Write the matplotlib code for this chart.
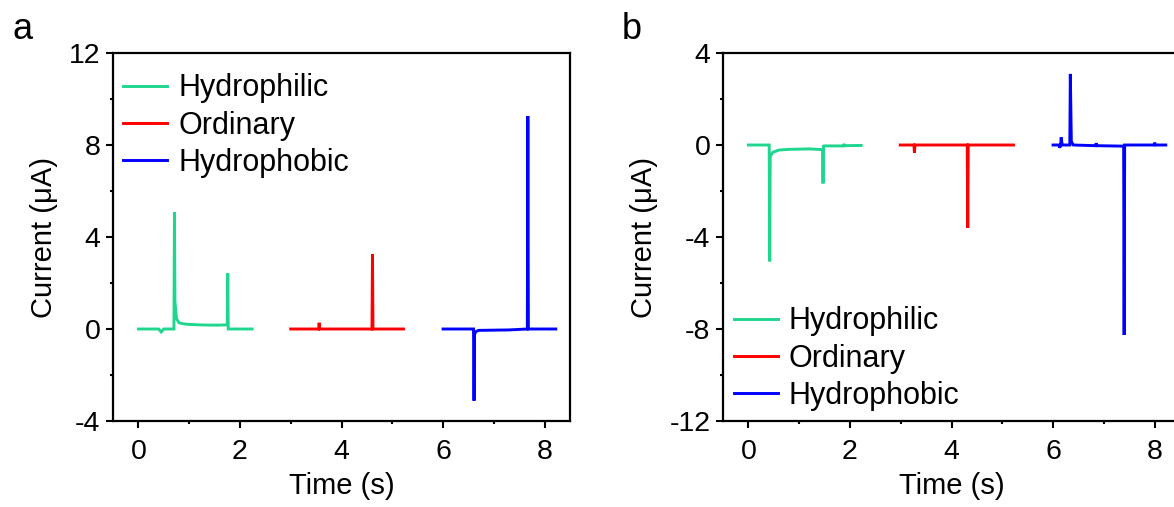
import matplotlib.pyplot as plt
from matplotlib.ticker import MultipleLocator

plt.rcParams['font.family'] = ['Liberation Sans', 'DejaVu Sans']
plt.rcParams['axes.unicode_minus'] = False

# ---------------------------------------------------------------------------- #
#                                     Data                                     #
# ---------------------------------------------------------------------------- #
# panel a (time in s, current in uA)
a_hydrophilic_t = [0.0, 0.40, 0.45, 0.50, 0.70, 0.71, 0.72, 0.75, 0.80, 0.90, 1.0, 1.2,
                   1.4, 1.6, 1.75, 1.76, 1.77, 2.0, 2.24]
a_hydrophilic_i = [0.0, 0.0, -0.13, 0.0, 0.0, 5.07, 1.2, 0.45, 0.27, 0.22, 0.20, 0.18,
                   0.17, 0.17, 0.18, 2.42, 0.0, 0.0, 0.0]

a_ordinary_t = [3.0, 3.55, 3.56, 3.57, 4.60, 4.61, 4.62, 5.22]
a_ordinary_i = [0.0, 0.0, 0.27, 0.0, 0.0, 3.26, 0.0, 0.0]

a_hydrophobic_t = [6.0, 6.60, 6.61, 6.62, 6.64, 6.70, 7.0, 7.3, 7.66, 7.67, 7.68, 8.22]
a_hydrophobic_i = [0.0, 0.0, -3.12, -0.25, -0.12, -0.06, -0.05, -0.04, 0.0, 9.26, 0.0, 0.0]

# panel b
b_hydrophilic_t = [0.0, 0.41, 0.42, 0.43, 0.48, 0.6, 0.8, 1.0, 1.2, 1.46, 1.47, 1.48,
                   1.49, 1.87, 1.88, 1.89, 2.22]
b_hydrophilic_i = [0.0, 0.0, -5.06, -0.5, -0.32, -0.22, -0.19, -0.18, -0.17, -0.2, -1.67,
                   -0.05, -0.04, -0.04, 0.05, -0.03, -0.02]

b_ordinary_t = [2.99, 3.26, 3.27, 3.28, 4.31, 4.32, 4.33, 5.22]
b_ordinary_i = [0.0, 0.0, -0.33, 0.0, 0.0, -3.6, 0.0, 0.0]

b_hydrophobic_t = [6.0, 6.12, 6.13, 6.15, 6.16, 6.18, 6.33, 6.34, 6.36, 6.40, 6.84, 6.85,
                   6.86, 7.39, 7.40, 7.41, 7.99, 8.0, 8.02, 8.22]
b_hydrophobic_i = [0.0, 0.0, -0.12, 0.0, 0.33, 0.0, 0.0, 3.09, 0.15, 0.0, -0.03, 0.08,
                   -0.03, -0.05, -8.26, 0.0, 0.0, 0.1, 0.0, 0.0]

LABELS = ['Hydrophilic', 'Ordinary', 'Hydrophobic']
COLORS = ['#1ED68E', '#FF0000', '#0000FF']

# ---------------------------------------------------------------------------- #
#                                   Plotting                                   #
# ---------------------------------------------------------------------------- #
fig = plt.figure(figsize=(11.74, 5.07), dpi=100)
ax_a = fig.add_axes([113 / 1174, 1 - 421 / 507, 457 / 1174, 368 / 507])
ax_b = fig.add_axes([723 / 1174, 1 - 421 / 507, 457 / 1174, 368 / 507])

panels = [
    (ax_a, [(a_hydrophilic_t, a_hydrophilic_i), (a_ordinary_t, a_ordinary_i),
            (a_hydrophobic_t, a_hydrophobic_i)], (-4, 12), 'upper left', (0.022, 0.945)),
    (ax_b, [(b_hydrophilic_t, b_hydrophilic_i), (b_ordinary_t, b_ordinary_i),
            (b_hydrophobic_t, b_hydrophobic_i)], (-12, 4), 'lower left', (0.024, 0.027)),
]

for ax, series, ylim, loc, anchor in panels:
    for (t, i), lab, col in zip(series, LABELS, COLORS):
        ax.plot(t, i, color=col, lw=2.1, label=lab, solid_joinstyle='miter')
    ax.set_xlim(-0.5, 8.5)
    ax.set_ylim(*ylim)
    ax.xaxis.set_major_locator(MultipleLocator(2))
    ax.xaxis.set_minor_locator(MultipleLocator(1))
    ax.yaxis.set_major_locator(MultipleLocator(4))
    ax.yaxis.set_minor_locator(MultipleLocator(2))
    ax.tick_params(which='major', direction='out', length=5, width=1.5, labelsize=20.5,
                   pad=4, top=False, right=False)
    ax.tick_params(axis='x', which='major', pad=8)
    ax.tick_params(which='minor', direction='out', length=2.5, width=1.5,
                   top=False, right=False)
    for sp in ax.spines.values():
        sp.set_linewidth(1.6)
    ax.set_xlabel('Time (s)', fontsize=21, labelpad=5)
    ax.set_ylabel('Current (μA)', fontsize=21, labelpad=8)
    ax.legend(loc=loc, bbox_to_anchor=anchor, frameon=False, fontsize=22,
              handlelength=1.45, handletextpad=0.35, labelspacing=0.24,
              borderpad=0, borderaxespad=0)

fig.text(12 / 1174, 1 - 39 / 507, 'a', fontsize=26)
fig.text(622 / 1174, 1 - 39 / 507, 'b', fontsize=26)

fig.savefig('out.png', dpi=100)
